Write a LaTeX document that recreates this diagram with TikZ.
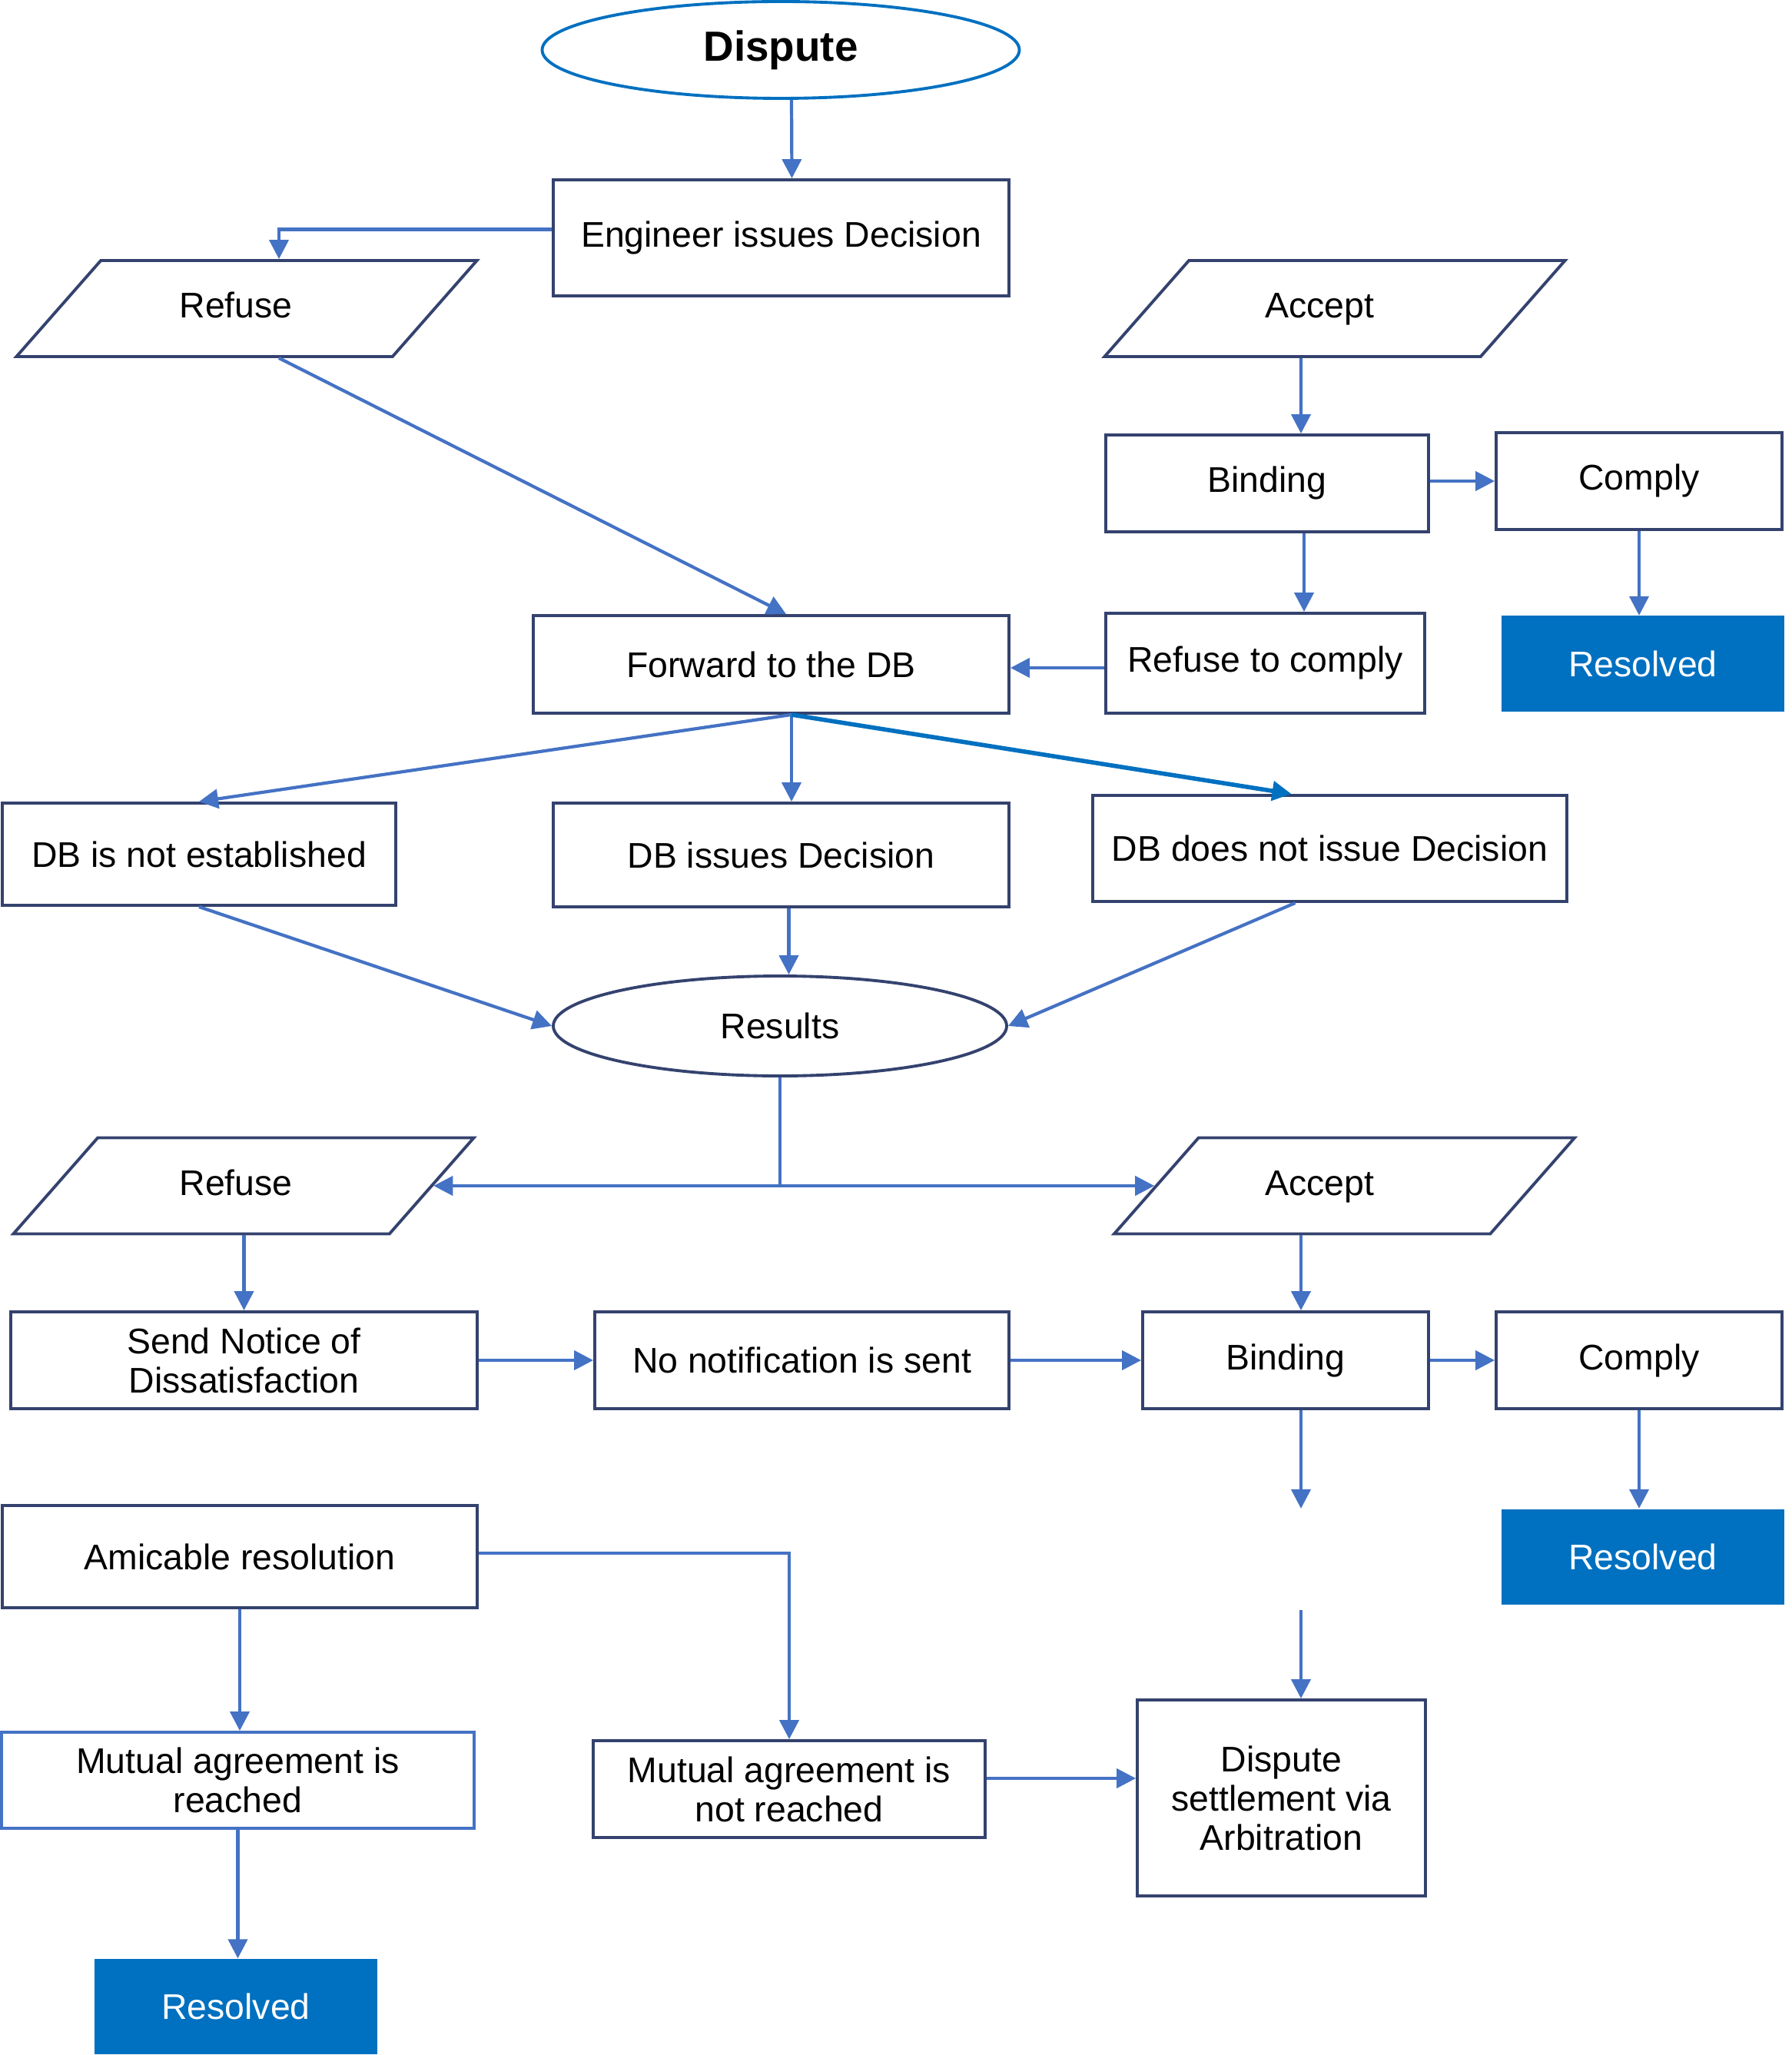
\documentclass[tikz,border=0pt]{standalone}
\usepackage{fontspec}
\setmainfont{Liberation Sans}
\usetikzlibrary{shapes.geometric,arrows.meta}
\definecolor{flowblue}{RGB}{68,114,196}
\definecolor{boxnavy}{RGB}{52,66,110}
\definecolor{brightblue}{RGB}{0,112,192}

\begin{document}
\begin{tikzpicture}[x=1cm, y=-1cm,
		every node/.style={font=\fontsize{13.2}{14.5}\selectfont, align=center, inner sep=1pt},
		stepbox/.style={rectangle, draw=boxnavy, line width=1.1pt},
		endbox/.style={rectangle, fill=brightblue, text=white, minimum width=3.68cm, minimum height=1.24cm},
		choice/.style={trapezium, trapezium left angle=46, trapezium right angle=134, trapezium stretches=true, text width=1.6cm, text height=0.34cm, text depth=0.09cm, draw=boxnavy, line width=1.1pt, minimum width=6.01cm, minimum height=1.25cm},
		oval/.style={ellipse, line width=1.1pt},
		flow/.style={draw=flowblue, line width=1.2pt, -{Triangle[length=0.25cm,width=0.25cm]}}]
		\useasboundingbox (0,0) rectangle (23.31,26.74);

		%––––– dispute –––––
		\node[oval, draw=brightblue, minimum width=6.21cm, minimum height=1.26cm, font=\fontsize{15.6}{18}\selectfont\bfseries] (dispute) at (10.16,0.65) {Dispute};

		\node[stepbox, minimum width=5.93cm, minimum height=1.51cm] (eng) at (10.165,3.095) {Engineer issues Decision};
		\draw[flow] ([xshift=0.14cm]dispute.south) -- ([xshift=0.14cm]eng.north);

		%––––– first answer –––––
		\node[choice] (ref1) at (3.21,4.015) {\hspace*{-0.28cm}Refuse};
		\draw[flow] ([yshift=0.11cm]eng.west) -| ([xshift=0.42cm]ref1.north);

		\node[choice] (acc1) at (17.37,4.015) {\hspace*{-0.4cm}Accept};

		\node[stepbox, minimum width=4.2cm, minimum height=1.26cm] (bind1) at (16.49,6.29) {Binding};
		\draw[flow] ([xshift=-0.44cm]acc1.south) -- ([xshift=0.44cm]bind1.north);

		\node[stepbox, minimum width=3.72cm, minimum height=1.26cm] (comp1) at (21.33,6.26) {Comply};
		\draw[flow] (comp1.west -| bind1.east) -- (comp1.west);

		\node[endbox] (res1) at (21.38,8.635) {Resolved};
		\draw[flow] (comp1.south) -- (comp1.south |- res1.north);

		\node[stepbox, minimum width=4.15cm, minimum height=1.3cm] (rtc) at (16.465,8.63) {Refuse to comply};
		\draw[flow] ([xshift=0.48cm]bind1.south) -- ([xshift=0.48cm]bind1.south |- rtc.north);

		\node[stepbox, minimum width=6.19cm, minimum height=1.27cm] (fwd) at (10.035,8.645) {Forward to the DB};
		\draw[flow] ([xshift=0.42cm]ref1.south) -- ([xshift=0.195cm]fwd.north);
		\draw[flow] ([yshift=-0.06cm]rtc.west) -- ([yshift=-0.06cm]rtc.west -| fwd.east);

		%––––– DB row –––––
		\coordinate (fs) at ([xshift=0.265cm]fwd.south);

		\node[stepbox, minimum width=5.12cm, minimum height=1.33cm] (dbn) at (2.59,11.115) {DB is not established};
		\draw[flow] (fs) -- (dbn.north);

		\node[stepbox, minimum width=5.93cm, minimum height=1.35cm] (dbi) at (10.165,11.125) {DB issues Decision};
		\draw[flow] (fs) -- (fs |- dbi.north);

		\node[stepbox, minimum width=6.17cm, minimum height=1.38cm] (dbd) at (17.305,11.04) {DB does not issue Decision};
		\draw[flow, draw=brightblue, line width=1.6pt] (fs) -- ([xshift=-0.5cm]dbd.north);

		\node[oval, draw=boxnavy, minimum width=5.9cm, minimum height=1.3cm] (resu) at (10.15,13.35) {Results};
		\draw[flow] (dbn.south) -- (resu.west);
		\draw[flow] ([xshift=0.1cm]dbi.south) -- ([xshift=0.1cm]dbi.south |- resu.north);
		\draw[flow] ([xshift=-0.45cm]dbd.south) -- (resu.east);

		%––––– second answer –––––
		\node[choice] (ref2) at (3.17,15.43) {\hspace*{-0.2cm}Refuse};
		\node[choice] (acc2) at (17.495,15.43) {\hspace*{-0.64cm}Accept};
		\coordinate (split) at (resu.south |- ref2.east);
		\draw[draw=flowblue, line width=1.2pt] (resu.south) -- (split);
		\draw[flow] (split) -- (ref2.east);
		\draw[flow] (split) -- (acc2.west);

		\node[stepbox, minimum width=6.07cm, minimum height=1.26cm] (sn) at (3.175,17.70) {Send Notice of\\Dissatisfaction};
		\draw[flow] (sn.north |- ref2.south) -- (sn.north);

		\node[stepbox, minimum width=5.39cm, minimum height=1.26cm] (nn) at (10.435,17.70) {No notification is sent};
		\draw[flow] (sn.east) -- (nn.west);

		\node[stepbox, minimum width=3.72cm, minimum height=1.26cm] (bind2) at (16.73,17.70) {Binding};
		\draw[flow] (nn.east) -- (bind2.west);
		\draw[flow] ([xshift=0.2cm]bind2.north |- acc2.south) -- ([xshift=0.2cm]bind2.north);

		\node[stepbox, minimum width=3.72cm, minimum height=1.26cm] (comp2) at (21.33,17.70) {Comply};
		\draw[flow] (bind2.east) -- (comp2.west);

		\node[endbox] (res2) at (21.38,20.255) {Resolved};
		\draw[flow] (comp2.south) -- (comp2.south |- res2.north);

		%––––– arbitration –––––
		\path ([xshift=0.2cm]bind2.south) ++(0,1.28) coordinate (gap1);
		\draw[flow] ([xshift=0.2cm]bind2.south) -- (gap1);

		\node[stepbox, minimum width=3.75cm, minimum height=2.55cm] (arb) at (16.675,23.395) {Dispute\\settlement via\\Arbitration};
		\path ([xshift=0.255cm]arb.north) ++(0,-1.15) coordinate (gap2);
		\draw[flow] (gap2) -- (gap2 |- arb.north);

		\node[stepbox, minimum width=6.18cm, minimum height=1.33cm] (ami) at (3.12,20.255) {Amicable resolution};

		\node[stepbox, minimum width=5.10cm, minimum height=1.26cm] (mnr) at (10.27,23.28) {Mutual agreement is\\not reached};
		\draw[flow] ([yshift=0.045cm]ami.east) -| (mnr.north);
		\draw[flow] ([yshift=0.14cm]mnr.east) -- ([yshift=0.14cm]mnr.east -| arb.west);

		\node[stepbox, draw=flowblue, minimum width=6.15cm, minimum height=1.25cm] (mr) at (3.095,23.165) {Mutual agreement is\\reached};
		\draw[flow] (ami.south) -- (ami.south |- mr.north);

		\node[endbox] (res3) at (3.07,26.11) {Resolved};
		\draw[flow] (mr.south) -- (mr.south |- res3.north);
	\end{tikzpicture}
\end{document}
